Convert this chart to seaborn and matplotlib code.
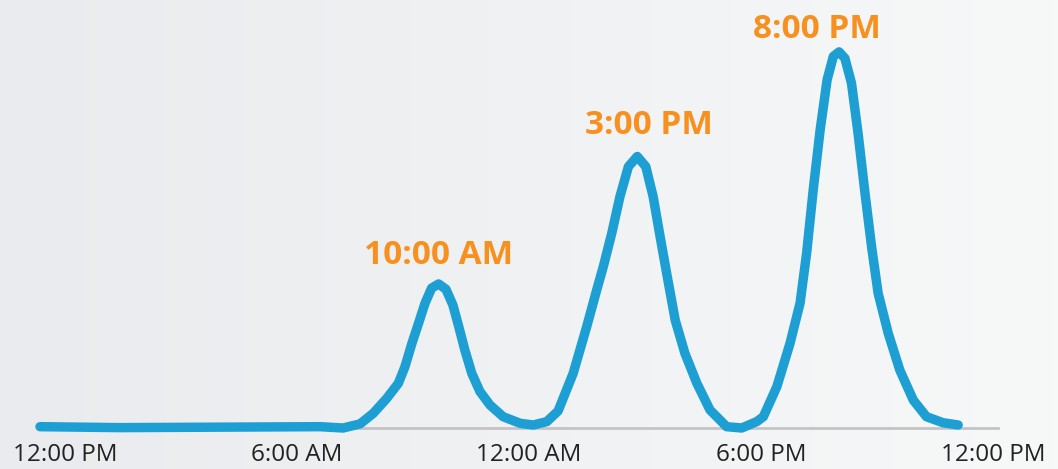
import numpy as np
import pandas as pd
import seaborn as sns
import matplotlib.pyplot as plt

# hours since midnight and relative activity level
hours = [-0.65, 1.42, 6.59, 7.19, 7.63, 7.97, 8.32, 8.62, 8.79, 8.97, 9.14, 9.31,
         9.48, 9.66, 9.85, 10.03, 10.17, 10.34, 10.52, 10.73, 10.99, 11.33,
         11.77, 12.11, 12.46, 12.75, 13.14, 13.49, 13.75, 13.92, 14.14, 14.35,
         14.57, 14.80, 15.02, 15.21, 15.39, 15.56, 15.78, 16.03, 16.34, 16.68,
         17.11, 17.50, 17.89, 18.06, 18.41, 18.75, 19.01, 19.18, 19.35, 19.53,
         19.71, 19.87, 20.02, 20.17, 20.34, 20.51, 20.69, 20.86, 21.03, 21.29,
         21.59, 21.94, 22.28, 22.71, 23.10]
activity = [0.35, 0.1, 0.35, 0.0, 1.1, 3.9, 7.9, 11.9, 16.3, 22.5, 27.8, 33.2,
            37.2, 38.3, 36.9, 32.7, 27.4, 20.7, 14.5, 9.7, 6.1, 3.0,
            1.25, 0.8, 1.7, 4.5, 14.5, 26.9, 36.7, 42.9, 51.8, 61.5,
            69.5, 72.2, 69.5, 61.5, 50.9, 41.1, 28.7, 19.9, 11.9, 4.8,
            0.35, 0.0, 1.7, 3.0, 11.0, 22.5, 33.2, 46.5, 63.3, 79.3,
            92.6, 98.8, 100.0, 98.3, 91.7, 78.4, 62.4, 48.2, 35.8, 25.2,
            15.4, 7.4, 3.0, 1.4, 0.8]

tick_hours = [0, 6, 12, 18, 24]
tick_labels = ["12:00 PM", "6:00 AM", "12:00 AM", "6:00 PM", "12:00 PM"]

peak_labels = ["10:00 AM", "3:00 PM", "8:00 PM"]
peak_hours = [9.66, 14.80, 20.02]
peak_values = [38.3, 72.2, 100.0]

df = pd.DataFrame({"hour": hours, "activity": activity})

sns.set_style("white")
plt.rcParams["font.family"] = ["Open Sans", "DejaVu Sans"]

fig = plt.figure(figsize=(10.58, 4.69), dpi=100)

# soft grey gradient background
bg = fig.add_axes([0, 0, 1, 1], zorder=-10)
grad = np.linspace(0, 1, 256).reshape(1, -1)
bg.imshow(grad, aspect="auto", cmap=sns.blend_palette(["#eaebee", "#f7f8f8"], as_cmap=True),
          extent=[0, 1, 0, 1])
bg.axis("off")

ax = fig.add_axes([40 / 1058, 41 / 469, 958 / 1058, 428 / 469])
ax.patch.set_alpha(0)

sns.lineplot(data=df, x="hour", y="activity", ax=ax, color="#1e9fd4", linewidth=6.8,
             sort=False, estimator=None, zorder=5)
for line in ax.lines:
    line.set_clip_on(False)
    line.set_solid_capstyle("round")
    line.set_solid_joinstyle("round")

ax.set_xlim(-0.65, 24.13)
ax.set_ylim(0, 113.8)

for s in ["top", "right", "left"]:
    ax.spines[s].set_visible(False)
ax.spines["bottom"].set_color("#c4c4c6")
ax.spines["bottom"].set_linewidth(2)
ax.spines["bottom"].set_zorder(1)

ax.set_yticks([])
ax.set_xticks(tick_hours)
ax.set_xticklabels(tick_labels, fontsize=17.5, color="#222222")
ax.tick_params(axis="x", length=0, pad=11)
ax.set_xlabel("")
ax.set_ylabel("")

offsets = [(0, 20), (12, 22), (-22, 14)]
for lab, hx, hv, off in zip(peak_labels, peak_hours, peak_values, offsets):
    ax.annotate(lab, (hx, hv), xytext=off, textcoords="offset pixels",
                ha="center", va="baseline", fontsize=24, fontweight="bold",
                color="#f7901e", annotation_clip=False)

fig.savefig("out.png", dpi=100)
plt.close(fig)
